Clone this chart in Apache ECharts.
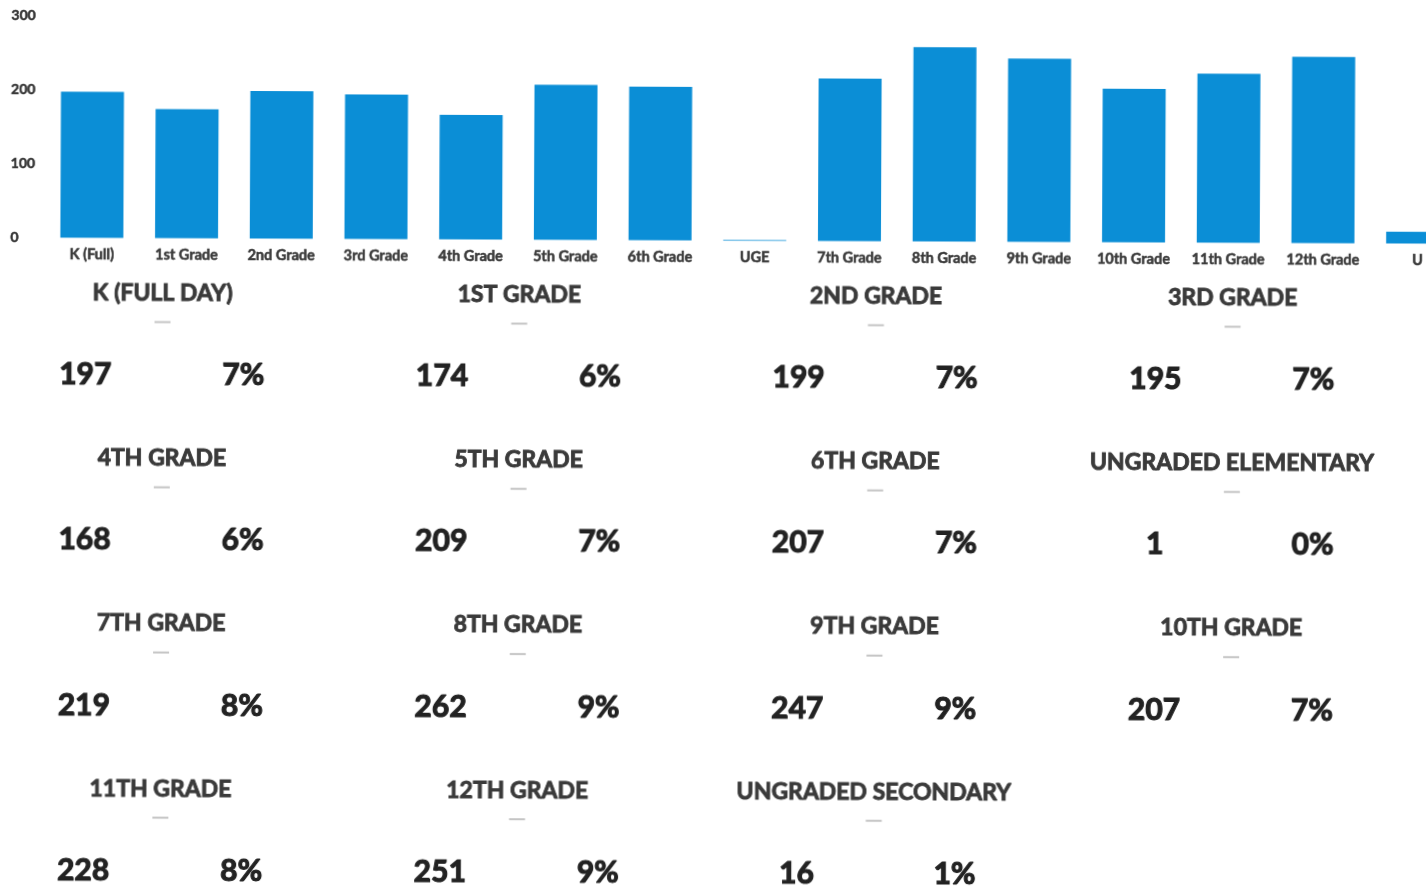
<!DOCTYPE html>
<html>
<head>
<meta charset="utf-8">
<title>Enrollment by Grade</title>
<script src="https://cdn.jsdelivr.net/npm/echarts@6/dist/echarts.min.js"></script>
<style>
  html, body { margin: 0; padding: 0; background: #ffffff; overflow: hidden; width: 1426px; height: 888px; }
  #chart { width: 1480px; height: 888px; transform: rotate(0.25deg); transform-origin: 713px 444px; }
</style>
</head>
<body>
<div id="chart"></div>
<script>
// Grade labels along the bar chart axis
const categories = ['K (Full)', '1st Grade', '2nd Grade', '3rd Grade', '4th Grade', '5th Grade', '6th Grade', 'UGE',
  '7th Grade', '8th Grade', '9th Grade', '10th Grade', '11th Grade', '12th Grade', 'U'];

// Students enrolled per grade
const enrollment = [197, 174, 199, 195, 168, 209, 207, 1, 219, 262, 247, 207, 228, 251, 16];

// Card headings, in the same order as the bars
const cardTitles = ['K (FULL DAY)', '1ST GRADE', '2ND GRADE', '3RD GRADE', '4TH GRADE', '5TH GRADE', '6TH GRADE',
  'UNGRADED ELEMENTARY', '7TH GRADE', '8TH GRADE', '9TH GRADE', '10TH GRADE', '11TH GRADE', '12TH GRADE',
  'UNGRADED SECONDARY'];

// Share of total enrollment shown on each card
const shareLabels = ['7%', '6%', '7%', '7%', '6%', '7%', '7%', '0%', '8%', '9%', '9%', '7%', '8%', '9%', '1%'];

// Value axis ticks
const yTicks = [0, 100, 200, 300];

const FONT = 'Lato, "Noto Sans", sans-serif';
const chart = echarts.init(document.getElementById('chart'), null, { renderer: 'canvas' });

// Heavy text: bold face with a thin outline in the same colour
function heavyText(text, x, y, size, color, weight) {
  return {
    type: 'text', x: x, y: y, silent: true,
    style: { text: text, align: 'center', verticalAlign: 'middle',
      fontFamily: FONT, fontWeight: 'bold', fontSize: size, fill: color,
      stroke: color, lineWidth: weight }
  };
}

// Summary cards: four per row, heading over a small dash, count on the left, share on the right
const COL_W = 356.7, ROW_H = 165.2;
const cards = [];
cardTitles.forEach(function (title, i) {
  const col = i % 4, row = Math.floor(i / 4);
  const cx = 162 + col * COL_W;
  const ty = 295.5 + row * ROW_H;
  cards.push(heavyText(title, cx, ty, 23, '#3a3a3a', 0.9));
  cards.push({
    type: 'rect', x: cx, y: ty + 29, silent: true,
    shape: { x: -8, y: -1, width: 16, height: 2 },
    style: { fill: '#c4c4c4' }
  });
  cards.push(heavyText(String(enrollment[i]), cx - 77, ty + 82, 30, '#222222', 1.1));
  cards.push(heavyText(shareLabels[i], cx + 81, ty + 82, 30, '#222222', 1.1));
});

chart.setOption({
  backgroundColor: '#ffffff',
  animation: false,
  grid: { left: 43.6, top: 18, width: 1420.5, height: 222.5, containLabel: false },
  xAxis: {
    type: 'category',
    data: categories,
    axisLine: { show: false },
    axisTick: { show: false },
    axisLabel: { interval: 0, margin: 9, color: '#3a3a3a', fontFamily: FONT, fontWeight: 'bold', fontSize: 14.5,
      textBorderColor: '#3a3a3a', textBorderWidth: 0.5 }
  },
  yAxis: {
    type: 'value',
    min: yTicks[0],
    max: yTicks[yTicks.length - 1],
    interval: yTicks[1] - yTicks[0],
    axisLine: { show: false },
    axisTick: { show: false },
    splitLine: { show: false },
    axisLabel: { align: 'left', margin: 34, color: '#333333', fontFamily: FONT, fontWeight: 'bold', fontSize: 14,
      textBorderColor: '#333333', textBorderWidth: 0.5 }
  },
  series: [{
    type: 'bar',
    data: enrollment,
    barWidth: 63,
    itemStyle: { color: '#0b8ed6' }
  }],
  graphic: cards
});
</script>
</body>
</html>
